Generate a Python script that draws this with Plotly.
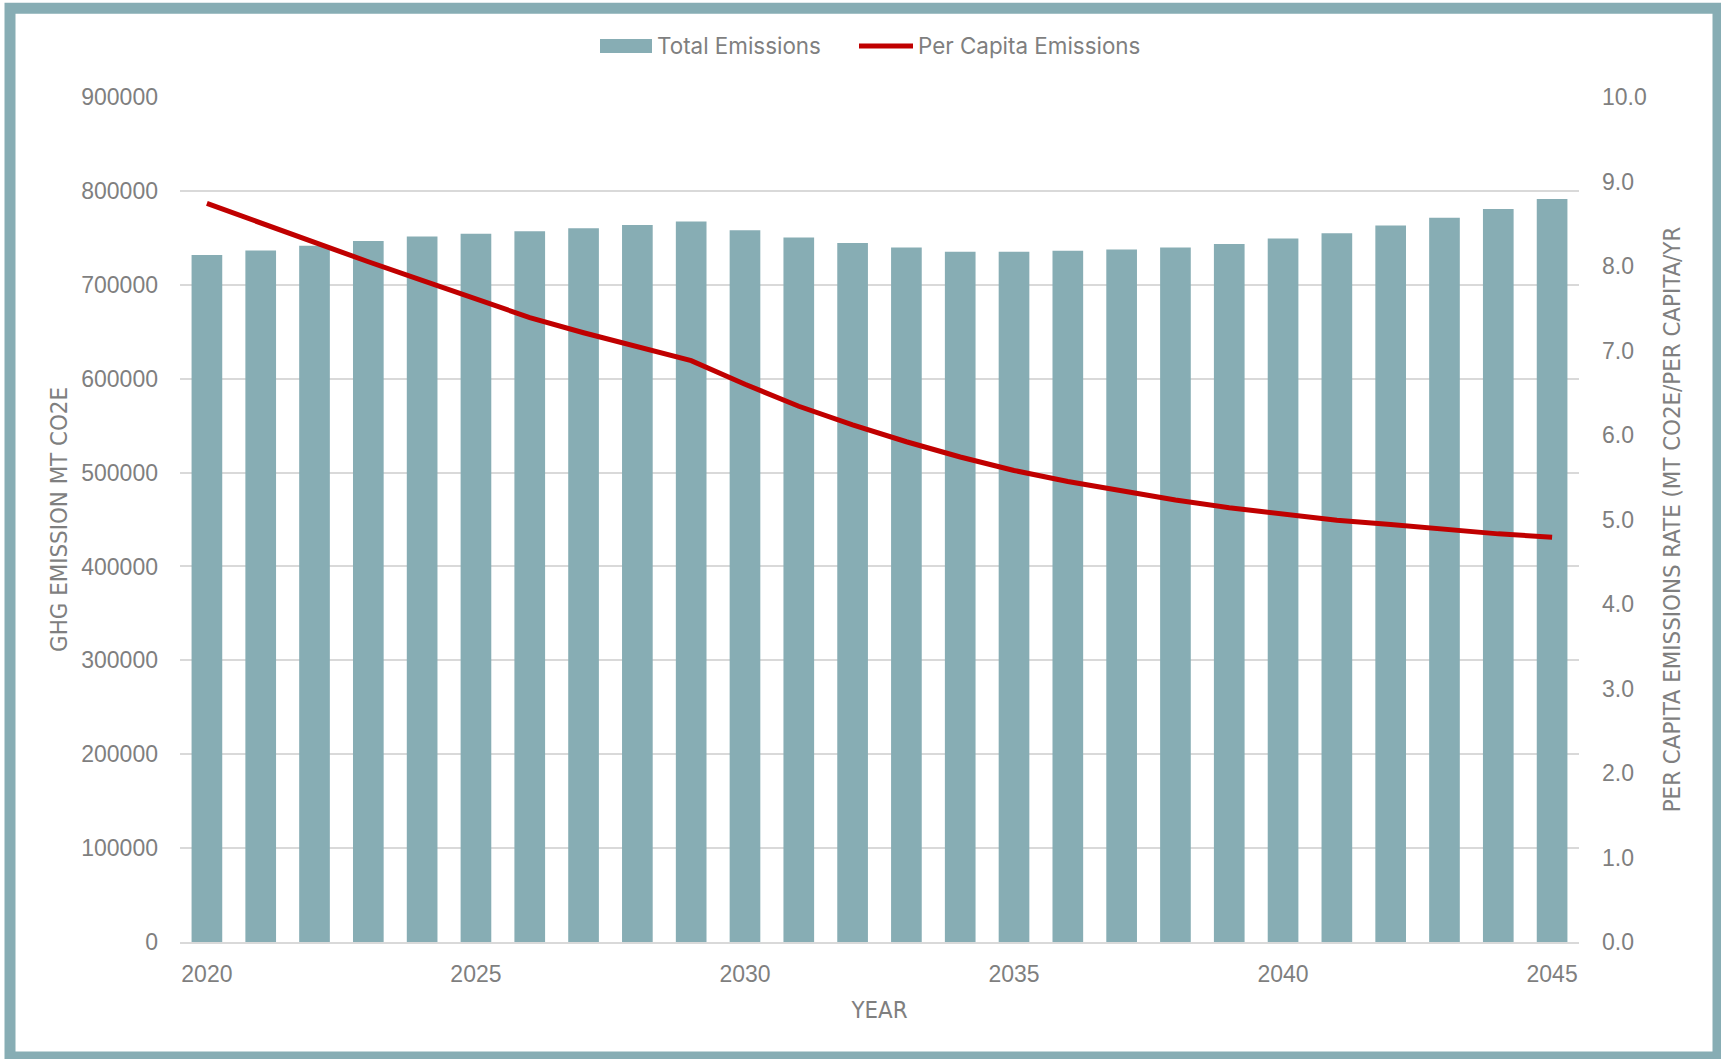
import plotly.graph_objects as go

years = list(range(2020, 2046))
total_emissions = [731600, 736600, 741500, 746500, 751500, 754300, 757100, 760300,
                   763800, 767400, 758200, 750400, 744500, 739800, 735200, 735200,
                   736300, 737500, 739800, 743300, 749200, 755000, 763200, 771400,
                   780700, 791300]
per_capita = [8.74, 8.51, 8.27, 8.05, 7.83, 7.61, 7.39, 7.21, 7.04, 6.88,
              6.60, 6.34, 6.12, 5.92, 5.74, 5.58, 5.45, 5.34, 5.23, 5.14,
              5.06, 4.99, 4.94, 4.88, 4.83, 4.79]
left_ticks = list(range(0, 900001, 100000))
right_ticks = [i * 1.0 for i in range(0, 11)]
x_ticks = [2020, 2025, 2030, 2035, 2040, 2045]
series_names = ["Total Emissions", "Per Capita Emissions"]

BAR = "#87adb4"
RED = "#c00000"
GRAY = "#7f7f7f"
GRID = "#d9d9d9"
TICKFONT = dict(family="Liberation Sans, Arial, sans-serif", size=23, color=GRAY)
TITLEFONT = dict(family="Liberation Sans Narrow, Arial Narrow, DejaVu Sans Condensed, sans-serif", size=23.8, color=GRAY)
LEGFONT = dict(family="Inter, Noto Sans, sans-serif", size=22.4, color=GRAY)

W, H = 1721, 1059
L, R, T, B = 180, 142, 97, 117
pw, ph = W - L - R, H - T - B

def px(x):
    return (x - L) / pw

def py(y):
    return (H - B - y) / ph

fig = go.Figure()
fig.add_trace(go.Bar(x=years, y=total_emissions, name=series_names[0],
                     marker=dict(color=BAR, line=dict(width=0)), yaxis="y",
                     showlegend=False))
fig.add_trace(go.Scatter(x=years, y=per_capita, name=series_names[1],
                         mode="lines", line=dict(color=RED, width=5), yaxis="y2",
                         showlegend=False))

shapes = [
    # outer border
    dict(type="rect", xref="paper", yref="paper",
         x0=px(10), x1=px(1718), y0=py(1057), y1=py(8.3),
         line=dict(color=BAR, width=11), fillcolor="rgba(0,0,0,0)", layer="above"),
    # legend swatches
    dict(type="rect", xref="paper", yref="paper",
         x0=px(600), x1=px(652), y0=py(53), y1=py(39),
         line=dict(width=0), fillcolor=BAR, layer="above"),
    dict(type="line", xref="paper", yref="paper",
         x0=px(859), x1=px(913), y0=py(46), y1=py(46),
         line=dict(color=RED, width=5), layer="above"),
]
annotations = [
    dict(text=series_names[0], xref="paper", yref="paper", x=px(655), y=py(46),
         xanchor="left", yanchor="middle", showarrow=False, font=LEGFONT),
    dict(text=series_names[1], xref="paper", yref="paper", x=px(916), y=py(46),
         xanchor="left", yanchor="middle", showarrow=False, font=LEGFONT),
]

fig.update_layout(
    width=W, height=H,
    margin=dict(l=L, r=R, t=T, b=B),
    paper_bgcolor="white", plot_bgcolor="white",
    bargap=0.43,
    showlegend=False,
    xaxis=dict(range=[2019.5, 2045.5], tickvals=x_ticks, ticktext=[str(v) for v in x_ticks],
               tickfont=TICKFONT, showgrid=False, zeroline=False,
               showline=True, linecolor=GRID, linewidth=2, ticks="",
               ticklabelstandoff=10,
               title=dict(text="YEAR", font=TITLEFONT, standoff=16)),
    yaxis=dict(range=[0, 900000], tickvals=left_ticks, ticktext=[str(v) for v in left_ticks],
               tickfont=TICKFONT, showgrid=True, gridcolor=GRID, gridwidth=2,
               zeroline=False, ticks="", ticklabelstandoff=21,
               title=dict(text="GHG EMISSION MT CO2E", font=TITLEFONT, standoff=6)),
    yaxis2=dict(range=[0, 10], tickvals=right_ticks, ticktext=[f"{v:.1f}" for v in right_ticks],
                overlaying="y", side="right", tickfont=TICKFONT, showgrid=False,
                zeroline=False, ticks="", ticklabelstandoff=22,
                title=dict(text="PER CAPITA EMISSIONS RATE (MT CO2E/PER CAPITA/YR", font=TITLEFONT, standoff=17)),
    shapes=shapes,
    annotations=annotations,
)

fig.write_html("out.html")
